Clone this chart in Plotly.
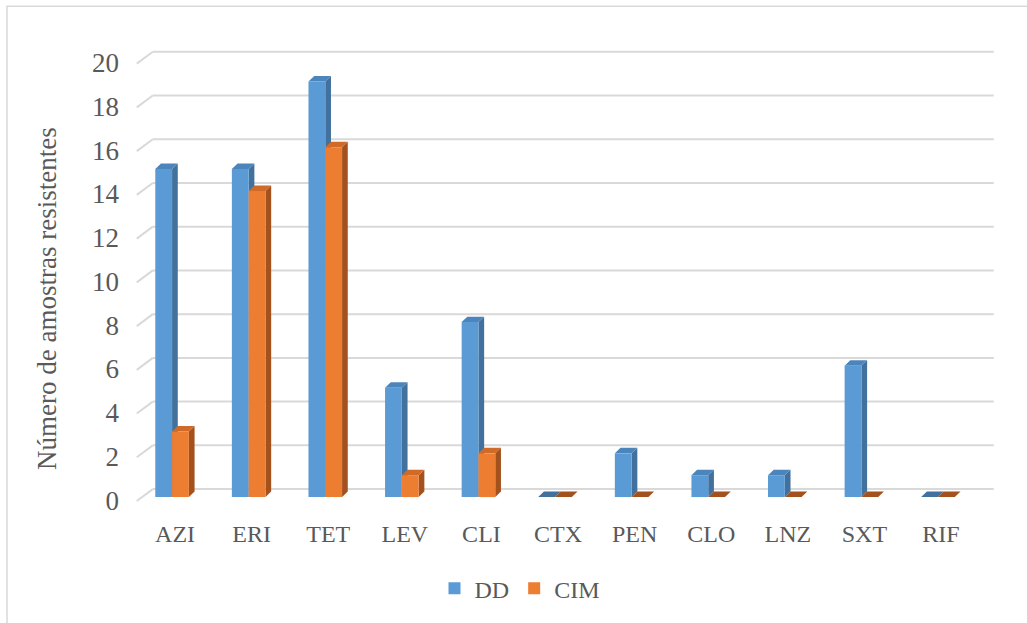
import plotly.graph_objects as go

categories = ["AZI", "ERI", "TET", "LEV", "CLI", "CTX", "PEN", "CLO", "LNZ", "SXT", "RIF"]
dd_values = [15, 15, 19, 5, 8, 0, 2, 1, 1, 6, 0]
cim_values = [3, 14, 16, 1, 2, 0, 0, 0, 0, 0, 0]
y_ticks = [0, 2, 4, 6, 8, 10, 12, 14, 16, 18, 20]
series_names = ["DD", "CIM"]

# ---- layout geometry (pixels) ----
W_FIG, H_FIG = 1027, 623
ML, MR, MT, MB = 120, 17, 40, 113
PW = W_FIG - ML - MR
PH = H_FIG - MT - MB
XR = [-0.68, 10.94]
YR = [-0.5, 20.9]
DX = (XR[1] - XR[0]) / PW       # data units per px (x)
DY = (YR[1] - YR[0]) / PH       # data units per px (y)

BAR_W = 16.8 * DX
DEPTH_X = 5.7 * DX
DEPTH_Y = 5.5 * DY

FRONT_C = ["#5B9BD5", "#ED7D31"]
SIDE_C = ["#41719C", "#A3521D"]
TOP_C = ["#4C84BC", "#CF6A28"]
GRID_C = "#D9D9D9"
TXT_C = "#595959"
FONT = "Liberation Serif, Times New Roman, serif"

x_pos = list(range(len(categories)))

fig = go.Figure()
for k, (name, vals) in enumerate(zip(series_names, [dd_values, cim_values])):
    fig.add_trace(go.Bar(
        x=x_pos, y=vals, name=name,
        width=BAR_W, offset=-BAR_W if k == 0 else 0,
        marker=dict(color=FRONT_C[k], line=dict(width=0)),
        hoverinfo="x+y+name",
    ))

shapes = []
# back wall gridlines with left wall diagonal
gx0 = (137 - 172.3) * DX
gx1 = (153 - 172.3) * DX
gx2 = (994 - 172.3) * DX
for v in y_ticks:
    shapes.append(dict(type="line", xref="x", yref="y", layer="below",
                       x0=gx1, x1=gx2, y0=v + 8 * DY, y1=v + 8 * DY,
                       line=dict(color=GRID_C, width=2)))
    shapes.append(dict(type="line", xref="x", yref="y", layer="below",
                       x0=gx0, x1=gx1, y0=v - 4 * DY, y1=v + 8 * DY,
                       line=dict(color=GRID_C, width=2)))

# 3D faces of the bars
for k, vals in enumerate([dd_values, cim_values]):
    for i, v in enumerate(vals):
        L = i - BAR_W if k == 0 else i
        R = L + BAR_W
        side = (f"M {R},0 L {R},{v} L {R + DEPTH_X},{v + DEPTH_Y} "
                f"L {R + DEPTH_X},{DEPTH_Y} Z")
        top = (f"M {L},{v} L {R},{v} L {R + DEPTH_X},{v + DEPTH_Y} "
               f"L {L + DEPTH_X},{v + DEPTH_Y} Z")
        if v > 0:
            shapes.append(dict(type="path", path=side, xref="x", yref="y",
                               layer="below", fillcolor=SIDE_C[k],
                               line=dict(width=0)))
        shapes.append(dict(type="path", path=top, xref="x", yref="y",
                           layer="below", fillcolor=TOP_C[k] if v > 0 else SIDE_C[k],
                           line=dict(width=0)))

# outer chart border
shapes.append(dict(type="rect", xref="paper", yref="paper", layer="below",
                   x0=(7 - ML) / PW, x1=(W_FIG + 10 - ML) / PW,
                   y0=(PH + MT - (H_FIG + 10)) / PH, y1=(PH + MT - 6) / PH,
                   line=dict(color=GRID_C, width=1.5), fillcolor="rgba(0,0,0,0)"))

fig.update_layout(
    width=W_FIG, height=H_FIG,
    margin=dict(l=ML, r=MR, t=MT, b=MB),
    paper_bgcolor="white", plot_bgcolor="white",
    barmode="overlay",
    shapes=shapes,
    font=dict(family=FONT, color=TXT_C),
    xaxis=dict(range=XR, showgrid=False, zeroline=False, showline=False,
               tickmode="array", tickvals=[i + 3 * DX for i in x_pos],
               ticktext=categories, ticks="outside", ticklen=4,
               tickcolor="rgba(0,0,0,0)",
               tickfont=dict(size=24, color=TXT_C, family=FONT),
               fixedrange=True),
    yaxis=dict(range=YR, showgrid=False, zeroline=False, showline=False,
               tickmode="array", tickvals=[v - 3 * DY for v in y_ticks],
               ticktext=[str(t) for t in y_ticks], ticks="", ticklen=0,
               tickfont=dict(size=27, color=TXT_C, family=FONT),
               fixedrange=True),
    legend=dict(orientation="h", xanchor="center", yanchor="middle",
                x=(520 - ML) / PW, y=(PH + MT - 591) / PH,
                font=dict(size=24, color=TXT_C, family=FONT), itemwidth=30,
                bgcolor="rgba(0,0,0,0)"),
    annotations=[dict(text="Número de amostras resistentes", xref="paper", yref="paper",
                      x=(47 - ML) / PW, y=(PH + MT - 300) / PH, textangle=-90,
                      showarrow=False, xanchor="center", yanchor="middle",
                      font=dict(size=27, color=TXT_C, family=FONT))],
)

fig.write_html("out.html", config={"displayModeBar": False},
               post_script="document.body.style.margin='0';document.body.style.overflow='hidden';")
